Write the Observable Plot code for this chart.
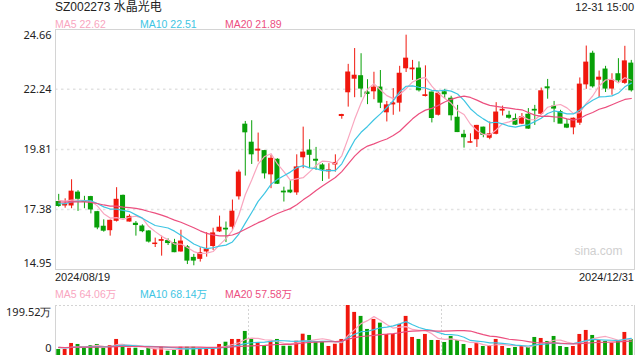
<!DOCTYPE html>
<html><head><meta charset="utf-8">
<script src="https://cdn.jsdelivr.net/npm/d3@7"></script>
<script src="https://cdn.jsdelivr.net/npm/@observablehq/plot@0.6"></script>
<style>
body{margin:0;background:#fff;font-family:"Liberation Sans",Arial,"Noto Sans CJK SC",sans-serif;}
#wrap{position:relative;width:640px;height:360px;overflow:hidden;}
.t{position:absolute;white-space:nowrap;line-height:14px;font-size:11px;}
#wrap svg{position:absolute;left:0;}
</style></head><body><div id="wrap"></div>
<script>
const title = "SZ002273 水晶光电";
const timeLabel = "12-31 15:00";
const startDate = "2024/08/19";
const endDate = "2024/12/31";

const open = [17.68,17.54,17.54,18.06,17.70,17.88,17.27,16.68,16.54,16.92,
17.93,16.89,16.80,16.69,16.49,15.98,16.11,16.10,16.02,15.68,
15.85,15.42,15.38,15.68,15.90,16.49,16.60,16.68,17.91,20.81,
20.08,19.76,19.74,18.80,19.39,18.10,18.14,18.07,19.49,19.76,
19.39,19.16,18.92,19.20,21.16,22.12,22.67,22.77,22.11,22.16,
22.31,21.31,21.63,21.70,23.09,23.05,23.08,21.97,22.11,21.21,
22.12,21.86,21.09,20.40,20.08,20.22,20.69,20.28,20.44,21.38,
21.17,21.04,20.85,21.21,21.41,21.25,22.32,21.54,21.32,20.81,
20.70,20.89,22.44,23.68,22.63,23.04,22.27,22.85,22.50,23.28];
const close = [17.52,17.58,18.10,17.81,17.68,17.38,16.65,16.52,16.92,17.77,
17.03,17.08,16.75,16.50,16.08,16.00,16.14,16.02,15.65,16.08,
15.31,15.31,15.61,15.76,16.41,16.64,16.57,17.29,18.87,20.50,
19.61,19.80,18.84,19.43,18.42,18.07,18.07,19.08,19.68,19.59,
19.35,18.99,18.96,19.26,21.20,22.92,22.79,22.27,22.05,22.31,
21.70,21.59,21.67,22.87,23.48,23.08,22.20,22.00,21.08,22.06,
22.04,21.19,20.51,20.30,20.10,20.76,20.40,20.42,21.30,21.41,
21.09,20.81,21.11,20.65,21.38,22.16,22.28,21.46,20.85,20.69,
21.05,22.43,23.32,22.36,22.71,22.27,22.60,22.60,23.37,22.20];
const high = [17.99,17.81,18.58,18.14,17.91,17.91,17.30,16.96,16.95,18.26,
17.96,17.16,16.89,16.76,16.52,16.22,16.30,16.19,16.17,16.54,
15.92,15.56,15.83,16.44,16.62,17.11,16.87,17.76,18.97,20.94,
20.97,20.47,19.77,19.57,19.43,18.28,18.55,19.59,20.71,20.20,
19.89,19.23,19.23,19.59,21.23,23.25,23.89,23.68,22.63,22.93,
23.00,21.75,22.27,23.17,24.43,23.41,23.35,23.19,22.13,22.13,
22.24,21.96,21.59,20.58,20.44,20.78,20.71,20.92,21.70,21.56,
21.35,21.24,21.26,21.46,21.59,22.29,22.64,21.75,21.39,21.02,
21.08,22.70,23.99,23.78,22.98,23.17,22.87,23.48,23.98,23.41];
const low = [17.47,17.43,17.41,17.30,17.41,17.20,16.56,16.46,16.30,16.87,
17.00,16.87,16.30,16.44,16.02,15.84,15.49,15.92,15.63,15.65,
15.15,15.10,15.25,15.45,15.72,16.45,16.04,16.53,17.76,18.73,
19.20,19.30,18.61,18.22,18.39,17.68,18.02,17.95,19.03,19.03,
18.96,18.51,18.60,18.89,21.03,21.52,21.90,21.90,21.62,21.82,
21.46,20.92,21.19,21.32,22.92,22.60,22.13,21.93,20.88,21.16,
21.86,20.96,20.49,19.86,20.06,19.89,20.28,20.20,20.40,21.16,
21.03,20.78,20.81,20.62,20.78,21.19,21.84,20.89,20.85,20.65,
20.40,20.78,22.24,22.29,21.90,22.11,22.00,22.47,22.44,22.13];
// volume in 万 shares
const volume = [24,24,48,44,29,39,44,29,39,64,
44,29,29,20,29,24,33,17,20,33,
33,33,29,29,29,44,53,64,64,96,
68,49,37,57,64,37,37,57,85,80,
56,56,36,45,64,199.52,172,156,104,144,
129,84,84,124,156,72,64,84,60,60,
52,76,60,44,28,48,36,39,64,36,
28,32,36,32,72,68,56,76,36,32,
36,84,100,80,60,56,48,60,92,64];
// estimated closes / volumes of the 19 sessions before 2024/08/19 (for moving averages)
const priorClose = [17.6,17.8,17.9,17.7,17.8,17.6,17.7,17.9,17.8,17.7,17.5,17.4,17.5,17.6,17.38,17.7,17.9,17.8,17.8];
const priorVolume = [30,36,28,34,40,31,27,35,33,30,38,29,32,36,30,34,31,35,33];

const priceTicks = [24.66, 22.24, 19.81, 17.38, 14.95];
const volTicks = [199.52, 0];
const maPeriods = [5, 10, 20];
const maPriceLabels = [22.62, 22.51, 21.89];
const maVolLabels = [64.06, 68.14, 57.58];
const maColors = ["#f9a6bf", "#3ec5e3", "#ec4f7f"];
const upColor = "#f0170d", downColor = "#08a008";

const n = close.length;
const rows = d3.range(n).map(i => ({i, open: open[i], close: close[i], high: high[i], low: low[i], vol: volume[i], c: close[i] >= open[i] ? upColor : downColor}));

function ma(series, prior, p) {
  const all = prior.concat(series);
  const off = prior.length;
  return d3.range(n).map(i => ({i, v: d3.mean(all.slice(off + i - p + 1, off + i + 1))}));
}

const wrap = document.getElementById("wrap");
function label(text, left, top, color, opts = {}) {
  const d = document.createElement("div");
  d.className = "t";
  d.textContent = text;
  d.style.top = top + "px";
  if (opts.right != null) d.style.right = opts.right + "px"; else d.style.left = left + "px";
  d.style.color = color;
  if (opts.size) d.style.fontSize = opts.size + "px";
  if (opts.lh) d.style.lineHeight = opts.lh + "px";
  wrap.appendChild(d);
}

const xDomain = [-0.5, n - 0.5];

const price = Plot.plot({
  width: 640, height: 280,
  marginTop: 29, marginBottom: 11, marginLeft: 55, marginRight: 6,
  x: {domain: xDomain, axis: null},
  y: {domain: [priceTicks[4], priceTicks[0]], axis: null},
  color: {type: "identity"},
  marks: [
    Plot.ruleY(priceTicks.slice(1, 4), {stroke: "#e2e2e2", strokeWidth: 1.5, strokeDasharray: "2.5,3.5"}),
    Plot.frame({stroke: "#d4d4d4"}),
    Plot.text(["sina.com"], {frameAnchor: "bottom-right", dx: -12, dy: -15, fill: "#cfcfcf", fontSize: 12, fontFamily: "Liberation Sans, Arial"}),
    Plot.ruleX(rows, {x: "i", y1: "low", y2: "high", stroke: "c", strokeWidth: 1}),
    Plot.rect(rows, {x1: d => d.i - 0.39, x2: d => d.i + 0.39, y1: "open", y2: "close", fill: "c", insetTop: -0.5, insetBottom: -0.5}),
    ...maPeriods.map((p, k) => Plot.line(ma(close, priorClose, p), {x: "i", y: "v", stroke: maColors[k], strokeWidth: 1.2})),
    Plot.text([priceTicks[0]], {y: d => d, text: d => d.toFixed(2), frameAnchor: "left", textAnchor: "end", dx: -4, dy: 6, fontSize: 11, fill: "#222"}),
    Plot.text(priceTicks.slice(1, 4), {y: d => d, text: d => d.toFixed(2), frameAnchor: "left", textAnchor: "end", dx: -4, fontSize: 11, fill: "#222"}),
    Plot.text([priceTicks[4]], {y: d => d, text: d => d.toFixed(2), frameAnchor: "left", textAnchor: "end", dx: -4, dy: -6, fontSize: 11, fill: "#222"})
  ]
});
price.style.top = "0px";
wrap.appendChild(price);

const thirds = [1, 2].map(k => k * n / 3 - 0.5);
const vol = Plot.plot({
  width: 640, height: 70,
  marginTop: 15, marginBottom: 5, marginLeft: 55, marginRight: 6,
  x: {domain: xDomain, axis: null},
  y: {domain: [0, volTicks[0]], axis: null},
  color: {type: "identity"},
  marks: [
    Plot.ruleY([volTicks[0]], {stroke: "#d4d4d4", strokeDasharray: "2,2"}),
    Plot.ruleX(thirds, {stroke: "#d4d4d4", strokeDasharray: "2,2"}),
    Plot.ruleX(xDomain, {stroke: "#d4d4d4"}),
    Plot.rect(rows, {x1: d => d.i - 0.3, x2: d => d.i + 0.3, y1: 0, y2: "vol", fill: "c"}),
    ...maPeriods.map((p, k) => Plot.line(ma(volume, priorVolume, p), {x: "i", y: "v", stroke: maColors[k], strokeWidth: 1.2})),
    Plot.text([volTicks[0]], {y: d => d, text: d => d + "万", frameAnchor: "left", textAnchor: "end", dx: -4, dy: 7, fontSize: 11, fill: "#222"}),
    Plot.text([volTicks[1]], {y: d => d, text: d => String(d), frameAnchor: "left", textAnchor: "end", dx: -4, dy: -7, fontSize: 11, fill: "#222"})
  ]
});
vol.style.top = "290px";
wrap.appendChild(vol);

label(title, 55, 0, "#222", {size: 12, lh: 15});
label(timeLabel, 0, 0, "#222", {right: 6, lh: 15});
const maLeft = [55, 140, 225];
maPeriods.forEach((p, k) => label(`MA${p} ${maPriceLabels[k].toFixed(2)}`, maLeft[k], 17, maColors[k], {size: 10.5}));
label(startDate, 55, 270, "#222");
label(endDate, 0, 270, "#222", {right: 6});
maPeriods.forEach((p, k) => label(`MA${p} ${maVolLabels[k].toFixed(2)}万`, maLeft[k], 287, maColors[k], {size: 10.5}));
</script></body></html>
